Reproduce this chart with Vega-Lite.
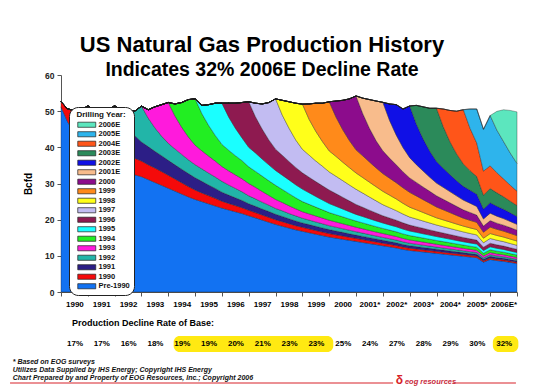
{
"$schema":"https://vega.github.io/schema/vega-lite/v6.json",
"width":456,"height":217,
"autosize":{"type":"none"},
"padding":{"left":61,"top":75,"right":33,"bottom":99},
"background":"white",
"title":{"text":"US Natural Gas Production History","subtitle":"Indicates 32% 2006E Decline Rate","anchor":"middle","dx":-27,"offset":-9,"font":"Liberation Sans","fontSize":22,"fontWeight":"bold","color":"black","subtitleFont":"Liberation Sans","subtitleFontSize":19.5,"subtitleFontWeight":"bold","subtitleColor":"black","subtitlePadding":4},
"resolve":{"axis":{"x":"independent","y":"independent"}},
"datasets":{"prod":[
{"t":1990.00,"a":51.2,"b":1.4,"c":0,"d":0,"e":0,"f":0,"g":0,"h":0,"i":0,"j":0,"k":0,"l":0,"m":0,"n":0,"o":0,"p":0,"q":0,"r":0},
{"t":1990.25,"a":47.0,"b":3.6,"c":0,"d":0,"e":0,"f":0,"g":0,"h":0,"i":0,"j":0,"k":0,"l":0,"m":0,"n":0,"o":0,"p":0,"q":0,"r":0},
{"t":1990.50,"a":44.0,"b":6.2,"c":0,"d":0,"e":0,"f":0,"g":0,"h":0,"i":0,"j":0,"k":0,"l":0,"m":0,"n":0,"o":0,"p":0,"q":0,"r":0},
{"t":1990.75,"a":41.6,"b":8.6,"c":0,"d":0,"e":0,"f":0,"g":0,"h":0,"i":0,"j":0,"k":0,"l":0,"m":0,"n":0,"o":0,"p":0,"q":0,"r":0},
{"t":1991.00,"a":39.6,"b":11.9,"c":0,"d":0,"e":0,"f":0,"g":0,"h":0,"i":0,"j":0,"k":0,"l":0,"m":0,"n":0,"o":0,"p":0,"q":0,"r":0},
{"t":1991.25,"a":38.0,"b":9.5,"c":2.7,"d":0,"e":0,"f":0,"g":0,"h":0,"i":0,"j":0,"k":0,"l":0,"m":0,"n":0,"o":0,"p":0,"q":0,"r":0},
{"t":1991.50,"a":36.7,"b":7.9,"c":5.6,"d":0,"e":0,"f":0,"g":0,"h":0,"i":0,"j":0,"k":0,"l":0,"m":0,"n":0,"o":0,"p":0,"q":0,"r":0},
{"t":1991.75,"a":35.6,"b":6.5,"c":8.3,"d":0,"e":0,"f":0,"g":0,"h":0,"i":0,"j":0,"k":0,"l":0,"m":0,"n":0,"o":0,"p":0,"q":0,"r":0},
{"t":1992.00,"a":34.6,"b":5.6,"c":11.3,"d":0,"e":0,"f":0,"g":0,"h":0,"i":0,"j":0,"k":0,"l":0,"m":0,"n":0,"o":0,"p":0,"q":0,"r":0},
{"t":1992.25,"a":33.8,"b":5.2,"c":9.0,"d":2.2,"e":0,"f":0,"g":0,"h":0,"i":0,"j":0,"k":0,"l":0,"m":0,"n":0,"o":0,"p":0,"q":0,"r":0},
{"t":1992.50,"a":33.0,"b":4.9,"c":7.5,"d":4.8,"e":0,"f":0,"g":0,"h":0,"i":0,"j":0,"k":0,"l":0,"m":0,"n":0,"o":0,"p":0,"q":0,"r":0},
{"t":1992.75,"a":32.4,"b":4.6,"c":6.2,"d":6.8,"e":0,"f":0,"g":0,"h":0,"i":0,"j":0,"k":0,"l":0,"m":0,"n":0,"o":0,"p":0,"q":0,"r":0},
{"t":1993.00,"a":31.9,"b":4.3,"c":5.3,"d":9.9,"e":0,"f":0,"g":0,"h":0,"i":0,"j":0,"k":0,"l":0,"m":0,"n":0,"o":0,"p":0,"q":0,"r":0},
{"t":1993.25,"a":31.1,"b":4.1,"c":5.0,"d":7.9,"e":2.3,"f":0,"g":0,"h":0,"i":0,"j":0,"k":0,"l":0,"m":0,"n":0,"o":0,"p":0,"q":0,"r":0},
{"t":1993.50,"a":30.3,"b":4.0,"c":4.6,"d":6.5,"e":5.8,"f":0,"g":0,"h":0,"i":0,"j":0,"k":0,"l":0,"m":0,"n":0,"o":0,"p":0,"q":0,"r":0},
{"t":1993.75,"a":29.5,"b":3.8,"c":4.4,"d":5.4,"e":8.7,"f":0,"g":0,"h":0,"i":0,"j":0,"k":0,"l":0,"m":0,"n":0,"o":0,"p":0,"q":0,"r":0},
{"t":1994.00,"a":28.7,"b":3.6,"c":4.1,"d":4.7,"e":11.3,"f":0,"g":0,"h":0,"i":0,"j":0,"k":0,"l":0,"m":0,"n":0,"o":0,"p":0,"q":0,"r":0},
{"t":1994.25,"a":27.9,"b":3.35,"c":3.9,"d":4.4,"e":9.1,"f":3.35,"g":0,"h":0,"i":0,"j":0,"k":0,"l":0,"m":0,"n":0,"o":0,"p":0,"q":0,"r":0},
{"t":1994.50,"a":27.1,"b":3.1,"c":3.75,"d":4.1,"e":7.5,"f":6.85,"g":0,"h":0,"i":0,"j":0,"k":0,"l":0,"m":0,"n":0,"o":0,"p":0,"q":0,"r":0},
{"t":1994.75,"a":26.3,"b":2.85,"c":3.6,"d":3.8,"e":6.3,"f":10.35,"g":0,"h":0,"i":0,"j":0,"k":0,"l":0,"m":0,"n":0,"o":0,"p":0,"q":0,"r":0},
{"t":1995.00,"a":25.6,"b":2.6,"c":3.4,"d":3.6,"e":5.4,"f":12.8,"g":0,"h":0,"i":0,"j":0,"k":0,"l":0,"m":0,"n":0,"o":0,"p":0,"q":0,"r":0},
{"t":1995.25,"a":25.0,"b":2.4,"c":3.2,"d":3.45,"e":5.0,"f":10.3,"g":2.25,"h":0,"i":0,"j":0,"k":0,"l":0,"m":0,"n":0,"o":0,"p":0,"q":0,"r":0},
{"t":1995.50,"a":24.4,"b":2.25,"c":2.95,"d":3.3,"e":4.7,"f":8.5,"g":5.7,"h":0,"i":0,"j":0,"k":0,"l":0,"m":0,"n":0,"o":0,"p":0,"q":0,"r":0},
{"t":1995.75,"a":23.8,"b":2.1,"c":2.75,"d":3.15,"e":4.4,"f":7.1,"g":8.9,"h":0,"i":0,"j":0,"k":0,"l":0,"m":0,"n":0,"o":0,"p":0,"q":0,"r":0},
{"t":1996.00,"a":23.2,"b":1.9,"c":2.5,"d":3.0,"e":4.1,"f":6.1,"g":11.4,"h":0,"i":0,"j":0,"k":0,"l":0,"m":0,"n":0,"o":0,"p":0,"q":0,"r":0},
{"t":1996.25,"a":22.7,"b":1.8,"c":2.3,"d":2.8,"e":3.9,"f":5.7,"g":9.2,"h":3.8,"i":0,"j":0,"k":0,"l":0,"m":0,"n":0,"o":0,"p":0,"q":0,"r":0},
{"t":1996.50,"a":22.2,"b":1.7,"c":2.15,"d":2.6,"e":3.75,"f":5.3,"g":7.6,"h":6.9,"i":0,"j":0,"k":0,"l":0,"m":0,"n":0,"o":0,"p":0,"q":0,"r":0},
{"t":1996.75,"a":21.7,"b":1.6,"c":2.0,"d":2.4,"e":3.6,"f":5.0,"g":6.3,"h":9.8,"i":0,"j":0,"k":0,"l":0,"m":0,"n":0,"o":0,"p":0,"q":0,"r":0},
{"t":1997.00,"a":21.1,"b":1.5,"c":1.8,"d":2.2,"e":3.4,"f":4.6,"g":5.4,"h":12.6,"i":0,"j":0,"k":0,"l":0,"m":0,"n":0,"o":0,"p":0,"q":0,"r":0},
{"t":1997.25,"a":20.5,"b":1.45,"c":1.75,"d":2.05,"e":3.2,"f":4.4,"g":5.1,"h":10.0,"i":3.75,"j":0,"k":0,"l":0,"m":0,"n":0,"o":0,"p":0,"q":0,"r":0},
{"t":1997.50,"a":19.9,"b":1.4,"c":1.65,"d":1.9,"e":2.95,"f":4.25,"g":4.7,"h":8.3,"i":6.95,"j":0,"k":0,"l":0,"m":0,"n":0,"o":0,"p":0,"q":0,"r":0},
{"t":1997.75,"a":19.3,"b":1.35,"c":1.6,"d":1.75,"e":2.7,"f":4.05,"g":4.4,"h":6.9,"i":10.35,"j":0,"k":0,"l":0,"m":0,"n":0,"o":0,"p":0,"q":0,"r":0},
{"t":1998.00,"a":18.7,"b":1.3,"c":1.5,"d":1.6,"e":2.5,"f":3.9,"g":4.1,"h":5.9,"i":13.9,"j":0,"k":0,"l":0,"m":0,"n":0,"o":0,"p":0,"q":0,"r":0},
{"t":1998.25,"a":18.2,"b":1.25,"c":1.45,"d":1.55,"e":2.3,"f":3.6,"g":3.95,"h":5.5,"i":11.1,"j":4.1,"k":0,"l":0,"m":0,"n":0,"o":0,"p":0,"q":0,"r":0},
{"t":1998.50,"a":17.7,"b":1.2,"c":1.35,"d":1.45,"e":2.15,"f":3.35,"g":3.8,"h":5.1,"i":9.2,"j":7.3,"k":0,"l":0,"m":0,"n":0,"o":0,"p":0,"q":0,"r":0},
{"t":1998.75,"a":17.2,"b":1.15,"c":1.3,"d":1.4,"e":1.95,"f":3.05,"g":3.6,"h":4.8,"i":7.6,"j":10.15,"k":0,"l":0,"m":0,"n":0,"o":0,"p":0,"q":0,"r":0},
{"t":1999.00,"a":16.8,"b":1.1,"c":1.2,"d":1.3,"e":1.8,"f":2.8,"g":3.45,"h":4.5,"i":6.5,"j":12.5,"k":0,"l":0,"m":0,"n":0,"o":0,"p":0,"q":0,"r":0},
{"t":1999.25,"a":16.4,"b":1.06,"c":1.18,"d":1.25,"e":1.72,"f":2.63,"g":3.2,"h":4.3,"i":6.1,"j":9.9,"k":4.26,"l":0,"m":0,"n":0,"o":0,"p":0,"q":0,"r":0},
{"t":1999.50,"a":16.0,"b":1.02,"c":1.15,"d":1.2,"e":1.65,"f":2.45,"g":2.95,"h":4.1,"i":5.7,"j":8.2,"k":7.78,"l":0,"m":0,"n":0,"o":0,"p":0,"q":0,"r":0},
{"t":1999.75,"a":15.6,"b":0.98,"c":1.13,"d":1.15,"e":1.57,"f":2.28,"g":2.71,"h":3.94,"i":5.4,"j":6.8,"k":10.64,"l":0,"m":0,"n":0,"o":0,"p":0,"q":0,"r":0},
{"t":2000.00,"a":15.2,"b":0.95,"c":1.1,"d":1.1,"e":1.5,"f":2.1,"g":2.5,"h":3.75,"i":5.0,"j":5.8,"k":13.6,"l":0,"m":0,"n":0,"o":0,"p":0,"q":0,"r":0},
{"t":2000.25,"a":14.9,"b":0.92,"c":1.05,"d":1.06,"e":1.44,"f":2.0,"g":2.34,"h":3.5,"i":4.8,"j":5.5,"k":10.9,"l":4.39,"m":0,"n":0,"o":0,"p":0,"q":0,"r":0},
{"t":2000.50,"a":14.6,"b":0.89,"c":1.0,"d":1.02,"e":1.38,"f":1.9,"g":2.17,"h":3.25,"i":4.6,"j":5.1,"k":9.0,"l":8.09,"m":0,"n":0,"o":0,"p":0,"q":0,"r":0},
{"t":2000.75,"a":14.3,"b":0.86,"c":0.95,"d":0.98,"e":1.31,"f":1.8,"g":2.0,"h":3.0,"i":4.4,"j":4.8,"k":7.5,"l":11.5,"m":0,"n":0,"o":0,"p":0,"q":0,"r":0},
{"t":2001.00,"a":14.0,"b":0.83,"c":0.9,"d":0.94,"e":1.25,"f":1.7,"g":1.84,"h":2.75,"i":4.2,"j":4.5,"k":6.4,"l":14.9,"m":0,"n":0,"o":0,"p":0,"q":0,"r":0},
{"t":2001.25,"a":13.7,"b":0.8,"c":0.88,"d":0.9,"e":1.2,"f":1.63,"g":1.76,"h":2.56,"i":3.92,"j":4.3,"k":6.0,"l":11.7,"m":4.25,"n":0,"o":0,"p":0,"q":0,"r":0},
{"t":2001.50,"a":13.4,"b":0.77,"c":0.85,"d":0.86,"e":1.15,"f":1.55,"g":1.67,"h":2.38,"i":3.63,"j":4.1,"k":5.6,"l":9.3,"m":7.94,"n":0,"o":0,"p":0,"q":0,"r":0},
{"t":2001.75,"a":13.1,"b":0.74,"c":0.83,"d":0.82,"e":1.1,"f":1.48,"g":1.59,"h":2.19,"i":3.35,"j":3.9,"k":5.2,"l":7.5,"m":11.0,"n":0,"o":0,"p":0,"q":0,"r":0},
{"t":2002.00,"a":12.8,"b":0.71,"c":0.8,"d":0.79,"e":1.08,"f":1.4,"g":1.5,"h":2.0,"i":3.06,"j":3.7,"k":4.9,"l":6.3,"m":13.4,"n":0,"o":0,"p":0,"q":0,"r":0},
{"t":2002.25,"a":12.5,"b":0.69,"c":0.77,"d":0.77,"e":1.04,"f":1.35,"g":1.44,"h":1.91,"i":2.85,"j":3.46,"k":4.7,"l":5.55,"m":10.4,"n":4.57,"o":0,"p":0,"q":0,"r":0},
{"t":2002.50,"a":12.2,"b":0.67,"c":0.74,"d":0.74,"e":1.0,"f":1.3,"g":1.39,"h":1.82,"i":2.64,"j":3.22,"k":4.5,"l":4.95,"m":8.2,"n":8.43,"o":0,"p":0,"q":0,"r":0},
{"t":2002.75,"a":11.8,"b":0.64,"c":0.71,"d":0.72,"e":0.95,"f":1.25,"g":1.33,"h":1.72,"i":2.43,"j":2.97,"k":4.3,"l":4.4,"m":6.7,"n":10.68,"o":0,"p":0,"q":0,"r":0},
{"t":2003.00,"a":11.5,"b":0.62,"c":0.68,"d":0.69,"e":0.91,"f":1.2,"g":1.27,"h":1.63,"i":2.22,"j":2.73,"k":4.1,"l":4.0,"m":5.6,"n":14.3,"o":0,"p":0,"q":0,"r":0},
{"t":2003.25,"a":11.3,"b":0.6,"c":0.66,"d":0.67,"e":0.88,"f":1.16,"g":1.23,"h":1.57,"i":2.12,"j":2.54,"k":3.83,"l":3.75,"m":4.9,"n":11.2,"o":5.19,"p":0,"q":0,"r":0},
{"t":2003.50,"a":11.1,"b":0.58,"c":0.64,"d":0.64,"e":0.86,"f":1.11,"g":1.18,"h":1.51,"i":2.01,"j":2.36,"k":3.55,"l":3.5,"m":4.4,"n":8.9,"o":8.86,"p":0,"q":0,"r":0},
{"t":2003.75,"a":10.9,"b":0.56,"c":0.61,"d":0.62,"e":0.83,"f":1.07,"g":1.14,"h":1.44,"i":1.91,"j":2.17,"k":3.28,"l":3.3,"m":3.9,"n":7.2,"o":11.87,"p":0,"q":0,"r":0},
{"t":2004.00,"a":10.7,"b":0.54,"c":0.59,"d":0.59,"e":0.8,"f":1.03,"g":1.09,"h":1.38,"i":1.81,"j":1.98,"k":3.0,"l":3.1,"m":3.5,"n":6.0,"o":14.7,"p":0,"q":0,"r":0},
{"t":2004.25,"a":10.5,"b":0.52,"c":0.57,"d":0.57,"e":0.77,"f":1.0,"g":1.05,"h":1.33,"i":1.74,"j":1.89,"k":2.8,"l":2.9,"m":3.3,"n":5.3,"o":11.5,"p":4.86,"q":0,"r":0},
{"t":2004.50,"a":10.3,"b":0.51,"c":0.55,"d":0.55,"e":0.74,"f":0.97,"g":1.0,"h":1.28,"i":1.67,"j":1.8,"k":2.59,"l":2.7,"m":3.1,"n":4.7,"o":9.1,"p":8.64,"q":0,"r":0},
{"t":2004.75,"a":10.1,"b":0.49,"c":0.53,"d":0.53,"e":0.71,"f":0.93,"g":0.96,"h":1.24,"i":1.6,"j":1.7,"k":2.39,"l":2.5,"m":2.9,"n":4.2,"o":7.4,"p":11.82,"q":0,"r":0},
{"t":2005.00,"a":9.9,"b":0.48,"c":0.51,"d":0.51,"e":0.68,"f":0.9,"g":0.92,"h":1.19,"i":1.53,"j":1.61,"k":2.18,"l":2.3,"m":2.7,"n":3.8,"o":6.2,"p":15.0,"q":0,"r":0},
{"t":2005.25,"a":9.7,"b":0.46,"c":0.49,"d":0.5,"e":0.65,"f":0.87,"g":0.89,"h":1.14,"i":1.48,"j":1.55,"k":2.08,"l":2.2,"m":2.55,"n":3.6,"o":5.4,"p":11.7,"q":5.34,"r":0},
{"t":2005.50,"a":9.5,"b":0.45,"c":0.48,"d":0.48,"e":0.64,"f":0.84,"g":0.87,"h":1.1,"i":1.43,"j":1.49,"k":1.98,"l":2.0,"m":2.4,"n":3.4,"o":4.85,"p":9.3,"q":9.39,"r":0},
{"t":2005.75,"a":8.27,"b":0.38,"c":0.41,"d":0.41,"e":0.54,"f":0.71,"g":0.75,"h":0.93,"i":1.22,"j":1.26,"k":1.66,"l":1.69,"m":1.96,"n":2.76,"o":3.82,"p":6.67,"q":11.55,"r":0},
{"t":2006.00,"a":9.0,"b":0.42,"c":0.45,"d":0.45,"e":0.59,"f":0.77,"g":0.81,"h":1.0,"i":1.32,"j":1.36,"k":1.77,"l":1.8,"m":2.06,"n":2.9,"o":3.9,"p":6.3,"q":13.9,"r":0},
{"t":2006.25,"a":8.7,"b":0.4,"c":0.44,"d":0.44,"e":0.57,"f":0.75,"g":0.78,"h":0.97,"i":1.27,"j":1.32,"k":1.7,"l":1.7,"m":1.93,"n":2.75,"o":3.7,"p":5.55,"q":11.8,"r":5.18},
{"t":2006.50,"a":8.5,"b":0.39,"c":0.43,"d":0.43,"e":0.55,"f":0.72,"g":0.75,"h":0.94,"i":1.22,"j":1.27,"k":1.64,"l":1.65,"m":1.8,"n":2.6,"o":3.45,"p":4.95,"q":10.3,"r":8.81},
{"t":2006.75,"a":8.2,"b":0.37,"c":0.41,"d":0.41,"e":0.53,"f":0.7,"g":0.72,"h":0.91,"i":1.16,"j":1.23,"k":1.57,"l":1.6,"m":1.7,"n":2.4,"o":3.2,"p":4.4,"q":8.9,"r":11.79},
{"t":2007.00,"a":7.9,"b":0.36,"c":0.4,"d":0.4,"e":0.51,"f":0.67,"g":0.69,"h":0.88,"i":1.11,"j":1.18,"k":1.5,"l":1.5,"m":1.6,"n":2.2,"o":3.0,"p":4.0,"q":7.65,"r":14.25}
]},
"layer":[
{"data":{"name":"prod"},
 "transform":[{"fold":["a","b","c","d","e","f","g","h","i","j","k","l","m","n","o","p","q","r"],"as":["k","v"]}],
 "mark":{"type":"area","stroke":"#1a1a1a","strokeWidth":0.4,"strokeOpacity":0.85},
 "encoding":{
  "x":{"field":"t","type":"quantitative","title":null,"scale":{"domain":[1990,2007],"nice":false,"zero":false},
   "axis":{"values":[1990,1991,1992,1993,1994,1995,1996,1997,1998,1999,2000,2001,2002,2003,2004,2005,2006,2007],"title":null,"grid":false,"labelOffset":13.4,"labelFlush":false,"labelOverlap":false,"labelBound":false,"labelExpr":"datum.value >= 2007 ? '' : datum.value >= 2006 ? '2006E*' : datum.value >= 2001 ? datum.value + '*' : '' + datum.value","labelFontSize":8,"labelFontWeight":"bold","labelColor":"black","labelPadding":4,"tickSize":4,"tickColor":"#555","domainColor":"#555"}},
  "y":{"field":"v","type":"quantitative","title":"Bcfd","stack":"zero","scale":{"domain":[0,60],"nice":false,"zero":true},
   "axis":{"values":[0,10,20,30,40,50,60],"title":"Bcfd","titleFontSize":10,"titleFontWeight":"bold","titleColor":"black","titlePadding":11,"labelFontSize":8.5,"labelFontWeight":"bold","labelColor":"#222","labelPadding":3,"labelFlush":false,"labelOverlap":false,"tickSize":4,"tickColor":"#555","domainColor":"#555","grid":false}},
  "color":{"field":"k","type":"nominal",
   "scale":{"domain":["r","q","p","o","n","m","l","k","j","i","h","g","f","e","d","c","b","a"],
     "range":["#5CE6BE","#2EB4EC","#FF5519","#2B8A5A","#1010E6","#F8BC8C","#8C0C8C","#FF8A1A","#FFFF1A","#C2BCF2","#8E1A50","#1AFFFF","#22EE22","#FF1ADC","#22B5A8","#2C1E86","#F50A0A","#1272F2"]},
   "legend":{"orient":"none","legendX":8,"legendY":32,"title":"Drilling Year:","titleFontSize":8,"titleFontWeight":"bold","titleColor":"#111","titleAnchor":"middle","titlePadding":2,"labelFontSize":7.5,"labelFontWeight":"bold","labelColor":"#111","labelOffset":8,"labelExpr":"['Pre-1990','1990','1991','1992','1993','1994','1995','1996','1997','1998','1999','2000','2001E','2002E','2003E','2004E','2005E','2006E'][indexof('abcdefghijklmnopqr', datum.value)]","symbolType":"M-3,-0.85H3V0.85H-3Z","symbolSize":36,"symbolOffset":10,"symbolStrokeColor":"#222","symbolStrokeWidth":0.7,"symbolOpacity":1,"rowPadding":0.5,"padding":4,"fillColor":"white","strokeColor":"#222","cornerRadius":9}},
  "order":{"field":"k","sort":"ascending"}
 }},
{"data":{"values":[{}]},
 "mark":{"type":"rect","color":"#FFE912","cornerRadius":6},
 "encoding":{"x":{"datum":1994.2,"type":"quantitative","axis":null},"x2":{"datum":2000.15},"y":{"datum":-12.2,"type":"quantitative","axis":null},"y2":{"datum":-16.6}}},
{"data":{"values":[{}]},
 "mark":{"type":"rect","color":"#FFE912","cornerRadius":6},
 "encoding":{"x":{"datum":2006.1,"type":"quantitative","axis":null},"x2":{"datum":2007.05},"y":{"datum":-12.2,"type":"quantitative","axis":null},"y2":{"datum":-16.6}}},
{"data":{"values":[{"year":1990,"rate":"17%"},{"year":1991,"rate":"17%"},{"year":1992,"rate":"16%"},{"year":1993,"rate":"18%"},{"year":1994,"rate":"19%"},{"year":1995,"rate":"19%"},{"year":1996,"rate":"20%"},{"year":1997,"rate":"21%"},{"year":1998,"rate":"23%"},{"year":1999,"rate":"23%"},{"year":2000,"rate":"25%"},{"year":2001,"rate":"24%"},{"year":2002,"rate":"27%"},{"year":2003,"rate":"28%"},{"year":2004,"rate":"29%"},{"year":2005,"rate":"30%"},{"year":2006,"rate":"32%"}]},
 "mark":{"type":"text","fontSize":8,"fontWeight":"bold","color":"black","dx":14,"align":"center","baseline":"middle"},
 "encoding":{"x":{"field":"year","type":"quantitative","axis":null},"y":{"datum":-14.4,"type":"quantitative","axis":null},"text":{"field":"rate"}}},
{"data":{"values":[{"label":"Production Decline Rate of Base:"}]},
 "mark":{"type":"text","fontSize":9,"fontWeight":"bold","color":"black","align":"left","baseline":"middle"},
 "encoding":{"x":{"datum":1990.41,"type":"quantitative","axis":null},"y":{"datum":-8.6,"type":"quantitative","axis":null},"text":{"field":"label"}}},
{"data":{"values":[{"note":"* Based on EOG surveys\nUtilizes Data Supplied by IHS Energy; Copyright IHS Energy\nChart Prepared by and Property of EOG Resources, Inc.; Copyright 2006"}]},
 "mark":{"type":"text","fontSize":7,"fontWeight":"bold","fontStyle":"italic","color":"#111","align":"left","baseline":"top","lineBreak":"\n","lineHeight":7.7},
 "encoding":{"x":{"datum":1988.2,"type":"quantitative","axis":null},"y":{"datum":-18.3,"type":"quantitative","axis":null},"text":{"field":"note"}}},
{"data":{"values":[{}]},
 "mark":{"type":"rule","color":"#D8232A","strokeWidth":1.2},
 "encoding":{"x":{"datum":1988.1,"type":"quantitative","axis":null},"x2":{"datum":2002.38},"y":{"datum":-25.16,"type":"quantitative","axis":null}}},
{"data":{"values":[{}]},
 "mark":{"type":"rule","color":"#D8232A","strokeWidth":1.2},
 "encoding":{"x":{"datum":2004.61,"type":"quantitative","axis":null},"x2":{"datum":2006.96},"y":{"datum":-25.16,"type":"quantitative","axis":null}}},
{"data":{"values":[{"logo":"δ"}]},
 "mark":{"type":"text","fontSize":12,"fontWeight":"bold","color":"#D8232A","align":"center","baseline":"middle"},
 "encoding":{"x":{"datum":2002.62,"type":"quantitative","axis":null},"y":{"datum":-24.2,"type":"quantitative","axis":null},"text":{"field":"logo"}}},
{"data":{"values":[{"logo":"eog resources"}]},
 "mark":{"type":"text","fontSize":7.5,"fontWeight":"bold","fontStyle":"italic","color":"#C8283A","align":"left","baseline":"middle"},
 "encoding":{"x":{"datum":2002.82,"type":"quantitative","axis":null},"y":{"datum":-24.9,"type":"quantitative","axis":null},"text":{"field":"logo"}}}
],
"config":{"font":"Liberation Sans","view":{"stroke":null}}
}
